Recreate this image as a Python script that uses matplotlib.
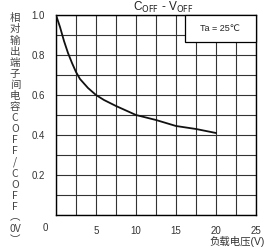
import numpy as np
import matplotlib
matplotlib.use("Agg")
from matplotlib import pyplot as plt
from matplotlib.patches import Rectangle

# load voltage (V) vs relative output capacitance
v_off = [0, 0.5, 1, 1.5, 2, 2.5, 3, 4, 5, 6, 7.5, 10, 12.5, 15, 17.5, 20]
c_rel = [1.0, 0.94, 0.87, 0.81, 0.76, 0.715, 0.68, 0.635, 0.60, 0.575, 0.545,
         0.50, 0.475, 0.445, 0.43, 0.41]

x_ticks = [5, 10, 15, 20, 25]
y_ticks = [0.2, 0.4, 0.6, 0.8, 1.0]
y_tick_labels = ["0.2", "0.4", "0.6", "0.8", "1.0"]

title = r"C$_{\mathrm{OFF}}$ - V$_{\mathrm{OFF}}$"
ylabel_chars = list("相对输出端子间电容COFF/COFF") + ["\ufe35", "0V", "\ufe36"]
xlabel = "负载电压(V)"
note = "Ta = 25℃"

plt.rcParams['font.family'] = ['Liberation Sans', 'Noto Sans CJK SC', 'DejaVu Sans']

fig = plt.figure(figsize=(2.69, 2.49), dpi=100)
ax = fig.add_axes([56 / 269, 34 / 249, 200 / 269, 200 / 249])

ax.set_xlim(0, 25)
ax.set_ylim(0, 1.0)
ax.set_xticks(np.arange(0, 25.1, 2.5), minor=True)
ax.set_yticks(np.arange(0, 1.01, 0.1), minor=True)
ax.set_xticks(x_ticks)
ax.set_yticks(y_ticks)
ax.set_yticklabels(y_tick_labels)
ax.grid(True, which='both', color='#333333', linewidth=0.8)
ax.tick_params(axis='both', which='both', length=0, labelsize=7,
               labelcolor='#333333')
ax.tick_params(axis='x', pad=8)
ax.tick_params(axis='y', pad=8)
for s in ax.spines.values():
    s.set_color('black')
    s.set_linewidth(1.0)

ax.plot(v_off, c_rel, color='#111111', linewidth=1.3, zorder=3)

# shared origin label
ax.text(-0.055, -0.065, "0", transform=ax.transAxes, fontsize=7,
        color='#333333', ha='center', va='center')

# condition box
ax.add_patch(Rectangle((0.645, 0.865), 0.355, 0.135, transform=ax.transAxes,
                       facecolor='white', edgecolor='black', linewidth=0.9,
                       zorder=4, clip_on=False))
ax.text(0.82, 0.932, note, transform=ax.transAxes, fontsize=6.5,
        ha='center', va='center', zorder=5, color='#222222',
        family=['Liberation Sans', 'DejaVu Sans'])

fig.text(163 / 269, 1 - 7 / 249, title, fontsize=8.5, ha='center', va='center',
         color='#222222')
fig.text(15 / 269, 1 - 129 / 249, "\n".join(ylabel_chars), fontsize=7.5,
         ha='center', va='center', linespacing=1.13, color='#444444',
         family=['Noto Sans CJK SC', 'DejaVu Sans'])
fig.text(265 / 269, 1 - 241 / 249, xlabel, fontsize=7.5, ha='right',
         va='center', color='#333333')

fig.savefig("out.png", dpi=100)
